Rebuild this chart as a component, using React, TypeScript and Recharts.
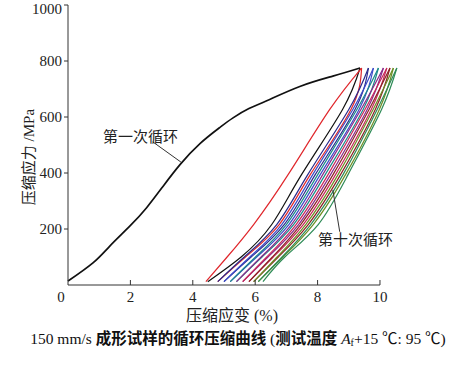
import { LineChart, Line, XAxis, YAxis, ReferenceLine } from "recharts";

// stress levels (MPa) shared by every cycle branch, bottom to top
const stressLevels = [12, 100, 216, 395, 627, 775];

// first loading curve (cycle 1)
const firstLoadStrain = [0, 0.8, 1.34, 1.98, 2.52, 3.05, 3.59, 4.23, 4.87, 5.29, 5.8, 6.37, 7.43, 8.49, 9.36];
const firstLoadStress = [14, 79, 139, 210, 276, 353, 430, 505, 563, 597, 630, 658, 709, 746, 775];

// strain (%) of each branch at the stress levels above
const unload1 = [4.48, 5.55, 6.53, 7.49, 8.8, 9.36];
const load2 = [4.42, 5.1, 5.95, 7.06, 8.39, 9.41];
const unload2 = [4.8, 5.69, 6.77, 7.77, 9.07, 9.41];
const load3 = [4.8, 5.65, 6.69, 7.69, 9.0, 9.63];
const unload3 = [5.0, 5.87, 6.93, 7.93, 9.2, 9.63];
const load4 = [5.0, 5.83, 6.85, 7.85, 9.13, 9.79];
const unload4 = [5.2, 6.05, 7.08, 8.09, 9.33, 9.79];
const load5 = [5.2, 6.01, 7.0, 8.01, 9.26, 9.95];
const unload5 = [5.4, 6.22, 7.23, 8.25, 9.46, 9.95];
const load6 = [5.4, 6.19, 7.16, 8.17, 9.39, 10.11];
const unload6 = [5.6, 6.41, 7.39, 8.42, 9.59, 10.11];
const load7 = [5.6, 6.37, 7.31, 8.34, 9.52, 10.22];
const unload7 = [5.8, 6.58, 7.54, 8.58, 9.72, 10.22];
const load8 = [5.8, 6.55, 7.46, 8.5, 9.65, 10.32];
const unload8 = [5.95, 6.74, 7.7, 8.74, 9.85, 10.32];
const load9 = [5.95, 6.7, 7.62, 8.66, 9.78, 10.43];
const unload9 = [6.1, 6.89, 7.86, 8.9, 9.98, 10.43];
const load10 = [6.1, 6.86, 7.78, 8.82, 9.91, 10.54];
const unload10 = [6.25, 6.95, 8.02, 8.98, 10.05, 10.54];

const cycleColors = [
  "#111111", // 1
  "#e0262b", // 2
  "#2a2a8c", // 3
  "#3b4bc8", // 4
  "#1a8a8a", // 5
  "#8a2a8a", // 6
  "#c8285a", // 7
  "#8b2323", // 8
  "#6b8e23", // 9
  "#2e8b57", // 10
];

const xTicks = [0, 2, 4, 6, 8, 10];
const yTicks = [200, 400, 600, 800, 1000];

const toPoints = (strain: number[]) => strain.map((x, i) => ({ x, y: stressLevels[i] }));

const branches: { cycle: number; strain: number[] }[] = [
  { cycle: 1, strain: unload1 },
  { cycle: 2, strain: load2 },
  { cycle: 2, strain: unload2 },
  { cycle: 3, strain: load3 },
  { cycle: 3, strain: unload3 },
  { cycle: 4, strain: load4 },
  { cycle: 4, strain: unload4 },
  { cycle: 5, strain: load5 },
  { cycle: 5, strain: unload5 },
  { cycle: 6, strain: load6 },
  { cycle: 6, strain: unload6 },
  { cycle: 7, strain: load7 },
  { cycle: 7, strain: unload7 },
  { cycle: 8, strain: load8 },
  { cycle: 8, strain: unload8 },
  { cycle: 9, strain: load9 },
  { cycle: 9, strain: unload9 },
  { cycle: 10, strain: load10 },
  { cycle: 10, strain: unload10 },
];

const firstLoad = firstLoadStrain.map((x, i) => ({ x, y: firstLoadStress[i] }));

const serif = '"Liberation Serif", "Times New Roman", "Noto Sans CJK SC", serif';

function XTick(props: any) {
  const { x, y, payload } = props;
  return (
    <g>
      {payload.value !== 0 && <line x1={x} x2={x} y1={y} y2={y - 5} stroke="#333" />}
      <text
        x={payload.value === 0 ? x - 7 : x}
        y={y + 17}
        textAnchor="middle"
        fontSize={15}
        fontFamily={serif}
        fill="#222"
      >
        {payload.value}
      </text>
    </g>
  );
}

export default function App() {
  return (
    <div style={{ position: "absolute", left: 0, top: 0, width: 458, height: 368, background: "#fff" }}>
      <LineChart width={458} height={368} margin={{ top: 5, right: 59.3, bottom: 53, left: 0 }}>
        <XAxis
          type="number"
          dataKey="x"
          domain={[0, 10.6]}
          ticks={xTicks}
          axisLine={false}
          tickLine={false}
          tickSize={0}
          tickMargin={0}
          height={30}
          tick={<XTick />}
        />
        <YAxis
          type="number"
          domain={[0, 1000]}
          ticks={yTicks}
          width={68}
          tickSize={4}
          stroke="#333"
          tick={{ fontSize: 15, fontFamily: serif, fill: "#222" }}
        />
        <ReferenceLine segment={[{ x: 0, y: 0 }, { x: 10, y: 0 }]} stroke="#333" />
        {branches.map((b, i) => (
          <Line
            key={i}
            data={toPoints(b.strain)}
            dataKey="y"
            type="natural"
            dot={false}
            stroke={cycleColors[b.cycle - 1]}
            strokeWidth={1.2}
            isAnimationActive={false}
          />
        ))}
        <Line
          data={firstLoad}
          dataKey="y"
          type="natural"
          dot={false}
          stroke="#111"
          strokeWidth={1.7}
          isAnimationActive={false}
        />
        <ReferenceLine segment={[{ x: 2.72, y: 511 }, { x: 3.62, y: 439 }]} stroke="#333" />
        <ReferenceLine segment={[{ x: 8.71, y: 190 }, { x: 8.49, y: 339 }]} stroke="#333" />
      </LineChart>

      <div style={{ position: "absolute", left: 103, top: 129, fontSize: 15, lineHeight: "16px", fontFamily: serif, color: "#222", whiteSpace: "nowrap" }}>
        第一次循环
      </div>
      <div style={{ position: "absolute", left: 318, top: 232, fontSize: 15, lineHeight: "16px", fontFamily: serif, color: "#222", whiteSpace: "nowrap" }}>
        第十次循环
      </div>
      <div
        style={{
          position: "absolute",
          left: 28.5,
          top: 157,
          transform: "translate(-50%, -50%) rotate(-90deg)",
          fontSize: 15,
          lineHeight: "16px",
          fontFamily: serif,
          color: "#222",
          whiteSpace: "nowrap",
        }}
      >
        压缩应力 /MPa
      </div>
      <div
        style={{
          position: "absolute",
          left: 232,
          top: 315,
          transform: "translate(-50%, -50%)",
          fontSize: 16,
          lineHeight: "17px",
          fontFamily: serif,
          color: "#222",
          whiteSpace: "nowrap",
        }}
      >
        压缩应变 (%)
      </div>
      <div
        style={{
          position: "absolute",
          left: 238,
          top: 341,
          transform: "translate(-50%, -50%)",
          fontSize: 15.5,
          lineHeight: "16px",
          fontFamily: serif,
          color: "#111",
          whiteSpace: "nowrap",
        }}
      >
        150 mm/s <span style={{ fontWeight: 600 }}>成形试样的循环压缩曲线</span> (<span style={{ fontWeight: 600 }}>测试温度</span>{" "}
        <i>A</i>
        <sub style={{ fontSize: 10, verticalAlign: "-2px" }}>f</sub>+15 ℃: 95 ℃)
      </div>
    </div>
  );
}
